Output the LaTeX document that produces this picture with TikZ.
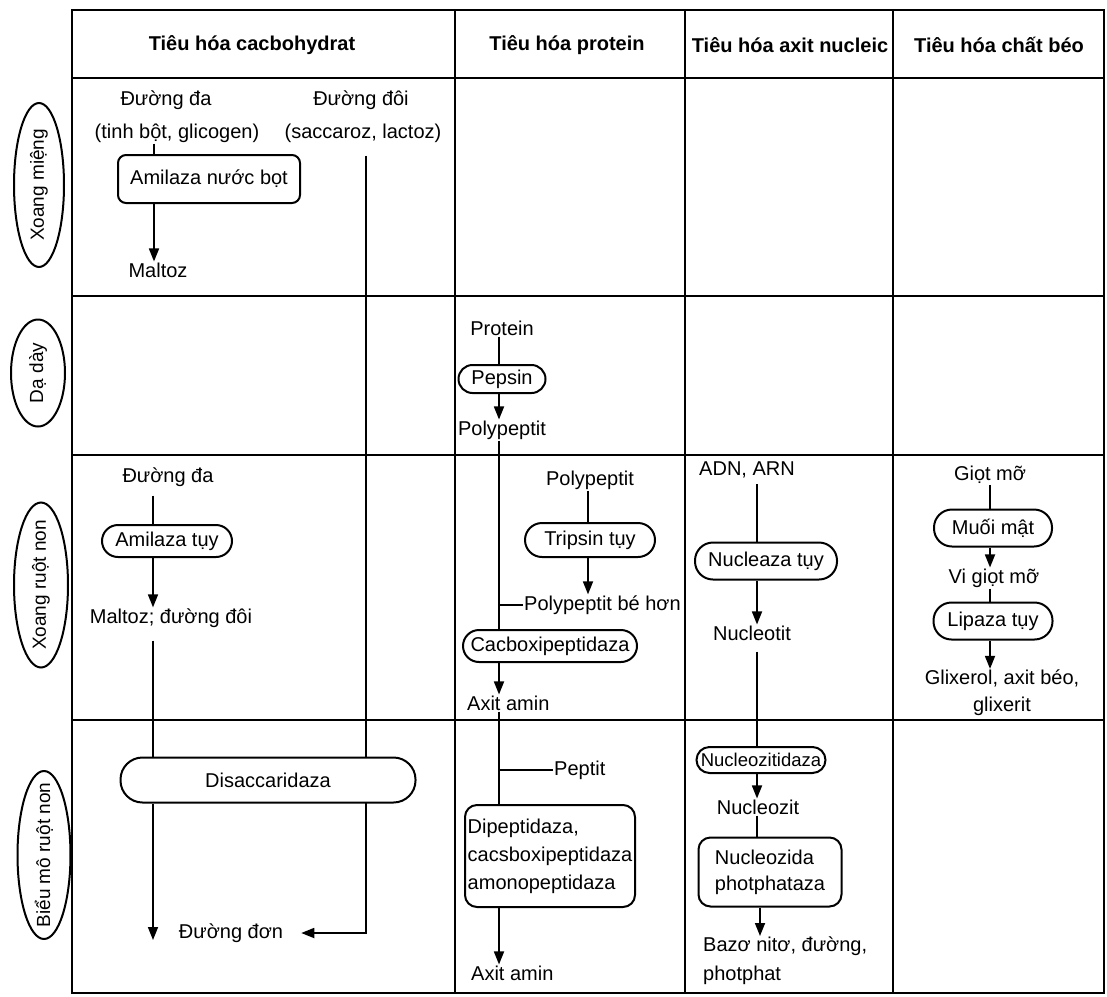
\documentclass[tikz,border=0pt]{standalone}
\usepackage{fontspec}
\setmainfont{Liberation Sans}
\usetikzlibrary{arrows.meta,shapes.geometric,calc}
\tikzset{
  tableline/.style={line width=2.6pt},
  conn/.style={line width=1.7pt},
  arr/.style={conn,-{Triangle[length=13pt,width=10pt]}},
  lbl/.style={inner sep=1pt,font=\fontsize{20}{24}\selectfont},
  hdr/.style={inner sep=1pt,font=\bfseries\fontsize{20}{24}\selectfont},
  pill/.style={draw,rectangle,rounded corners=#1,line width=2pt,fill=white,inner sep=1pt,font=\fontsize{20}{24}\selectfont},
  pill/.default=15pt,
  rbox/.style={draw,rectangle,line width=2pt,fill=white,inner sep=2pt,font=\fontsize{20}{28}\selectfont},
  rowell/.style={draw,ellipse,line width=2pt,rotate=90,inner sep=0pt},
  rowtxt/.style={rotate=90,inner sep=0pt,font=\fontsize{19}{22}\selectfont}
}
\begin{document}
\begin{tikzpicture}[x=1pt,y=-1pt]
\useasboundingbox (0,0) rectangle (1107,996);
% table
\draw[tableline] (72,10) rectangle (1104,993);
\draw[tableline] (72,78) -- (1104,78);
\draw[tableline] (72,296) -- (1104,296);
\draw[tableline] (72,455) -- (1104,455);
\draw[tableline] (72,720) -- (1104,720);
\draw[tableline] (455,10) -- (455,993);
\draw[tableline] (685,10) -- (685,993);
\draw[tableline] (893,10) -- (893,993);
% headers
\node[hdr] (h1) at (252,45) {Tiêu hóa cacbohydrat};
\node[hdr] (h2) at (567,45) {Tiêu hóa protein};
\node[hdr] (h3) at (790,45) {Tiêu hóa axit nucleic};
\node[hdr] (h4) at (999,45) {Tiêu hóa chất béo};
% row labels
\node[rowell,minimum width=164pt,minimum height=50pt] (r1) at (39,185) {};
\node[rowtxt] (r1t) at (r1.center) {Xoang miệng};
\node[rowell,minimum width=107pt,minimum height=54pt] (r2) at (38,373) {};
\node[rowtxt] (r2t) at (r2.center) {Dạ dày};
\node[rowell,minimum width=165pt,minimum height=54pt] (r3) at (41,585) {};
\node[rowtxt] (r3t) at (r3.center) {Xoang ruột non};
\node[rowell,minimum width=168pt,minimum height=53pt] (r4) at (44,855) {};
\node[rowtxt] (r4t) at (r4.center) {Biểu mô ruột non};
% ---- carbohydrate ----
\coordinate (xa) at (154,0);
\coordinate (xb) at (366,0);
\coordinate (xc) at (153,0);
\node[lbl] (cdd) at (166,100) {Đường đa};
\node[lbl] (cddb) at (177,133) {(tinh bột, glicogen)};
\node[lbl] (cdo) at (361,100) {Đường đôi};
\node[lbl] (cdob) at (363,133) {(saccaroz, lactoz)};
\node[rbox,rounded corners=8pt,minimum width=182pt,minimum height=48pt] (amb) at (209,179) {Amilaza nước bọt};
\node[lbl] (mal) at (158,270) {Maltoz};
\draw[conn] (cddb.south -| xa) -- (amb.north -| xa);
\draw[arr] (amb.south -| xa) -- (mal.north -| xa);
\node[lbl] (cdd2) at (168,477) {Đường đa};
\node[pill=16pt,minimum width=130pt,minimum height=32pt] (amt) at (167,541) {Amilaza tụy};
\node[lbl] (mdd) at (171,618) {Maltoz; đường đôi};
\draw[conn] ($(cdd2.south -| xc)+(0,8)$) -- (amt.north -| xc);
\draw[arr] (amt.south -| xc) -- (mdd.north -| xc);
\node[lbl] (don) at (231,933) {Đường đơn};
\draw[arr] ($(cdob.south -| xb)+(0,12)$) -- (xb |- don.center) -- ($(don.east)+(17,0)$);
\node[pill=22pt,minimum width=295pt,minimum height=45pt] (dis) at (268,780) {Disaccaridaza};
\draw[conn] ($(mdd.south -| xc)+(0,12)$) -- (dis.north -| xc);
\draw[arr] (dis.south -| xc) -- ($(don.center -| xc)+(0,7)$);
% ---- protein ----
\coordinate (xp) at (499,0);
\coordinate (xp2) at (588,0);
\node[lbl] (pro) at (502,328) {Protein};
\node[pill=14pt,minimum width=87pt,minimum height=28pt] (pep) at (502,379) {Pepsin};
\node[lbl] (pp1) at (502,430) {Polypeptit};
\draw[conn] (pro.south -| xp) -- (pep.north -| xp);
\draw[arr] (pep.south -| xp) -- (pp1.north -| xp);
\node[lbl] (pp2) at (590,480) {Polypeptit};
\node[pill=17pt,minimum width=130pt,minimum height=34pt] (tri) at (590,540) {Tripsin tụy};
\node[lbl,anchor=west] (pbh) at (523,605) {Polypeptit bé hơn};
\draw[conn] (pp2.south -| xp2) -- (tri.north -| xp2);
\draw[arr] (tri.south -| xp2) -- (pbh.north -| xp2);
\node[pill=16pt,minimum width=174pt,minimum height=32pt] (cac) at (550,646) {Cacboxipeptidaza};
\draw[conn] (pp1.south -| xp) -- (cac.north -| xp);
\draw[conn] (pbh.west) -- (pbh.west -| xp);
\node[lbl,anchor=west] (aa1) at (466,703) {Axit amin};
\draw[arr] (cac.south -| xp) -- (aa1.north -| xp);
\node[lbl,anchor=west] (pept) at (553,770) {Peptit};
\node[rbox,rounded corners=12pt,minimum width=170pt,minimum height=102pt,align=left] (dip) at (550,856) {Dipeptidaza,\\cacsboxipeptidaza\\amonopeptidaza};
\draw[conn] (aa1.south -| xp) -- (dip.north -| xp);
\draw[conn] (pept.west) -- (pept.west -| xp);
\node[lbl,anchor=west] (aa2) at (470,973) {Axit amin};
\draw[arr] (dip.south -| xp) -- (aa2.north -| xp);
% ---- nucleic acid ----
\coordinate (xn) at (757,0);
\coordinate (xn2) at (760,0);
\node[lbl] (adn) at (747,470) {ADN, ARN};
\node[pill=18pt,minimum width=142pt,minimum height=37pt] (nuc) at (766,561) {Nucleaza tụy};
\node[lbl] (ntit) at (752,633) {Nucleotit};
\draw[conn] ($(adn.south -| xn)+(0,5)$) -- (nuc.north -| xn);
\draw[arr] (nuc.south -| xn) -- (ntit.north -| xn);
\node[pill=13pt,minimum width=129pt,minimum height=26pt,inner xsep=0pt,font=\fontsize{18.5}{22}\selectfont] (nzd) at (761,760) {Nucleozitidaza};
\draw[conn] ($(ntit.south -| xn)+(0,10)$) -- (nzd.north -| xn);
\node[lbl] (nzt) at (758,807) {Nucleozit};
\draw[arr] (nzd.south -| xn) -- (nzt.north -| xn);
\node[rbox,rounded corners=12pt,minimum width=143pt,minimum height=69pt,align=left,font=\fontsize{20}{26}\selectfont] (nzp) at (770,872) {Nucleozida\\photphataza};
\draw[conn] (nzt.south -| xn) -- (nzp.north -| xn);
\node[lbl,anchor=north west,align=left,font=\fontsize{20}{29}\selectfont] (baz) at (702,936) {Bazơ nitơ, đường,\\photphat};
\draw[arr] (nzp.south -| xn2) -- (baz.north -| xn2);
% ---- fat ----
\coordinate (xf) at (990,0);
\node[lbl] (gm) at (990,475) {Giọt mỡ};
\node[pill=18pt,minimum width=118pt,minimum height=37pt] (mm) at (993,528) {Muối mật};
\node[lbl] (vgm) at (994,578) {Vi giọt mỡ};
\node[pill=18pt,minimum width=119pt,minimum height=37pt] (lip) at (993,621) {Lipaza tụy};
\node[lbl,align=center,font=\fontsize{20}{27}\selectfont] (gli) at (1002,693) {Glixerol, axit béo,\\glixerit};
\draw[conn] (gm.south -| xf) -- (mm.north -| xf);
\draw[arr] (mm.south -| xf) -- (vgm.north -| xf);
\draw[conn] (vgm.south -| xf) -- (lip.north -| xf);
\draw[arr] (lip.south -| xf) -- (gli.north -| xf);
\end{tikzpicture}
\end{document}
